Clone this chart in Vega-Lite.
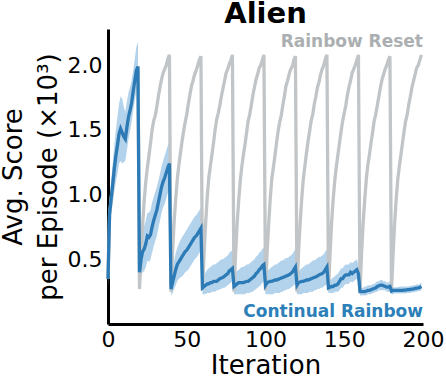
{
"$schema": "https://vega.github.io/schema/vega-lite/v6.json",
"width": 315, "height": 295,
"autosize": "none",
"padding": {"left": 108, "top": 29, "right": 23, "bottom": 52},
"background": "white",
"config": {
 "view": {"stroke": null},
 "font": "DejaVu Sans",
 "axis": {"domainColor": "black", "domainWidth": 3, "ticks": false, "grid": false, "labelFont": "DejaVu Sans", "labelFontSize": 22, "labelColor": "black", "titleFont": "DejaVu Sans", "titleFontSize": 26, "titleFontWeight": "normal", "titleColor": "black", "labelFlush": false, "labelOverlap": false}
},
"title": {"text": "Alien", "font": "DejaVu Sans", "fontSize": 29, "fontWeight": "bold", "color": "black", "anchor": "middle", "frame": "group", "offset": 0},
"datasets": {
"runs": [
{"iter":0,"reset":0.35,"cont":0.35,"lo":0.28,"hi":0.42},
{"iter":1,"reset":0.85,"cont":0.85,"lo":0.76,"hi":0.95},
{"iter":2,"reset":0.97,"cont":0.97,"lo":0.85,"hi":1.10},
{"iter":3,"reset":1.08,"cont":1.08,"lo":0.93,"hi":1.24},
{"iter":4,"reset":1.20,"cont":1.20,"lo":1.02,"hi":1.38},
{"iter":5,"reset":1.30,"cont":1.30,"lo":1.10,"hi":1.50},
{"iter":6,"reset":1.38,"cont":1.38,"lo":1.16,"hi":1.60},
{"iter":7,"reset":1.47,"cont":1.47,"lo":1.24,"hi":1.70},
{"iter":8,"reset":1.51,"cont":1.51,"lo":1.26,"hi":1.76},
{"iter":9,"reset":1.48,"cont":1.48,"lo":1.24,"hi":1.74},
{"iter":10,"reset":1.45,"cont":1.45,"lo":1.25,"hi":1.68},
{"iter":11,"reset":1.43,"cont":1.43,"lo":1.26,"hi":1.64},
{"iter":12,"reset":1.52,"cont":1.52,"lo":1.34,"hi":1.72},
{"iter":13,"reset":1.60,"cont":1.60,"lo":1.43,"hi":1.79},
{"iter":14,"reset":1.65,"cont":1.65,"lo":1.49,"hi":1.83},
{"iter":15,"reset":1.71,"cont":1.71,"lo":1.56,"hi":1.88},
{"iter":16,"reset":1.80,"cont":1.80,"lo":1.65,"hi":1.96},
{"iter":17,"reset":1.88,"cont":1.88,"lo":1.73,"hi":2.05},
{"iter":18,"reset":1.96,"cont":1.96,"lo":1.80,"hi":2.14},
{"iter":19,"reset":1.99,"cont":1.99,"lo":1.84,"hi":2.18},
{"iter":20,"reset":0.27,"cont":0.40,"lo":0.30,"hi":0.52},
{"iter":21,"reset":0.54,"cont":0.50,"lo":0.36,"hi":0.64},
{"iter":22,"reset":0.77,"cont":0.56,"lo":0.40,"hi":0.72},
{"iter":23,"reset":0.96,"cont":0.58,"lo":0.41,"hi":0.76},
{"iter":24,"reset":1.10,"cont":0.62,"lo":0.44,"hi":0.80},
{"iter":25,"reset":1.21,"cont":0.68,"lo":0.49,"hi":0.86},
{"iter":26,"reset":1.30,"cont":0.67,"lo":0.48,"hi":0.86},
{"iter":27,"reset":1.40,"cont":0.69,"lo":0.50,"hi":0.88},
{"iter":28,"reset":1.50,"cont":0.75,"lo":0.55,"hi":0.94},
{"iter":29,"reset":1.57,"cont":0.80,"lo":0.60,"hi":0.98},
{"iter":30,"reset":1.61,"cont":0.84,"lo":0.64,"hi":1.02},
{"iter":31,"reset":1.68,"cont":0.88,"lo":0.68,"hi":1.06},
{"iter":32,"reset":1.76,"cont":0.94,"lo":0.74,"hi":1.11},
{"iter":33,"reset":1.83,"cont":1.00,"lo":0.80,"hi":1.16},
{"iter":34,"reset":1.89,"cont":1.06,"lo":0.86,"hi":1.22},
{"iter":35,"reset":1.94,"cont":1.10,"lo":0.90,"hi":1.26},
{"iter":36,"reset":1.97,"cont":1.13,"lo":0.93,"hi":1.30},
{"iter":37,"reset":2.00,"cont":1.17,"lo":0.97,"hi":1.34},
{"iter":38,"reset":2.05,"cont":1.21,"lo":1.01,"hi":1.38},
{"iter":39,"reset":2.08,"cont":1.24,"lo":1.04,"hi":1.42},
{"iter":40,"reset":0.25,"cont":0.27,"lo":0.22,"hi":0.34},
{"iter":41,"reset":0.56,"cont":0.32,"lo":0.24,"hi":0.42},
{"iter":42,"reset":0.79,"cont":0.37,"lo":0.27,"hi":0.49},
{"iter":43,"reset":0.97,"cont":0.42,"lo":0.30,"hi":0.55},
{"iter":44,"reset":1.12,"cont":0.46,"lo":0.33,"hi":0.59},
{"iter":45,"reset":1.23,"cont":0.48,"lo":0.35,"hi":0.62},
{"iter":46,"reset":1.32,"cont":0.50,"lo":0.36,"hi":0.65},
{"iter":47,"reset":1.41,"cont":0.52,"lo":0.37,"hi":0.67},
{"iter":48,"reset":1.49,"cont":0.54,"lo":0.38,"hi":0.69},
{"iter":49,"reset":1.56,"cont":0.56,"lo":0.40,"hi":0.71},
{"iter":50,"reset":1.62,"cont":0.57,"lo":0.41,"hi":0.73},
{"iter":51,"reset":1.70,"cont":0.59,"lo":0.42,"hi":0.75},
{"iter":52,"reset":1.77,"cont":0.61,"lo":0.44,"hi":0.77},
{"iter":53,"reset":1.84,"cont":0.63,"lo":0.46,"hi":0.79},
{"iter":54,"reset":1.88,"cont":0.65,"lo":0.48,"hi":0.81},
{"iter":55,"reset":1.93,"cont":0.67,"lo":0.50,"hi":0.83},
{"iter":56,"reset":1.96,"cont":0.68,"lo":0.51,"hi":0.84},
{"iter":57,"reset":2.00,"cont":0.70,"lo":0.53,"hi":0.86},
{"iter":58,"reset":2.04,"cont":0.72,"lo":0.55,"hi":0.88},
{"iter":59,"reset":2.07,"cont":0.74,"lo":0.57,"hi":0.90},
{"iter":60,"reset":0.26,"cont":0.28,"lo":0.23,"hi":0.35},
{"iter":61,"reset":0.55,"cont":0.29,"lo":0.23,"hi":0.38},
{"iter":62,"reset":0.78,"cont":0.30,"lo":0.23,"hi":0.40},
{"iter":63,"reset":0.98,"cont":0.31,"lo":0.24,"hi":0.42},
{"iter":64,"reset":1.13,"cont":0.31,"lo":0.24,"hi":0.43},
{"iter":65,"reset":1.22,"cont":0.32,"lo":0.24,"hi":0.44},
{"iter":66,"reset":1.31,"cont":0.32,"lo":0.25,"hi":0.45},
{"iter":67,"reset":1.40,"cont":0.33,"lo":0.25,"hi":0.46},
{"iter":68,"reset":1.50,"cont":0.33,"lo":0.25,"hi":0.46},
{"iter":69,"reset":1.58,"cont":0.33,"lo":0.26,"hi":0.47},
{"iter":70,"reset":1.63,"cont":0.34,"lo":0.26,"hi":0.48},
{"iter":71,"reset":1.69,"cont":0.35,"lo":0.27,"hi":0.49},
{"iter":72,"reset":1.76,"cont":0.355,"lo":0.27,"hi":0.50},
{"iter":73,"reset":1.82,"cont":0.36,"lo":0.28,"hi":0.50},
{"iter":74,"reset":1.88,"cont":0.37,"lo":0.28,"hi":0.51},
{"iter":75,"reset":1.94,"cont":0.38,"lo":0.29,"hi":0.52},
{"iter":76,"reset":1.97,"cont":0.39,"lo":0.30,"hi":0.53},
{"iter":77,"reset":2.01,"cont":0.41,"lo":0.31,"hi":0.55},
{"iter":78,"reset":2.04,"cont":0.42,"lo":0.32,"hi":0.56},
{"iter":79,"reset":2.08,"cont":0.43,"lo":0.33,"hi":0.57},
{"iter":80,"reset":0.25,"cont":0.29,"lo":0.23,"hi":0.36},
{"iter":81,"reset":0.54,"cont":0.30,"lo":0.23,"hi":0.39},
{"iter":82,"reset":0.78,"cont":0.31,"lo":0.23,"hi":0.41},
{"iter":83,"reset":0.96,"cont":0.32,"lo":0.23,"hi":0.42},
{"iter":84,"reset":1.11,"cont":0.32,"lo":0.23,"hi":0.43},
{"iter":85,"reset":1.22,"cont":0.32,"lo":0.23,"hi":0.44},
{"iter":86,"reset":1.31,"cont":0.32,"lo":0.23,"hi":0.44},
{"iter":87,"reset":1.39,"cont":0.325,"lo":0.23,"hi":0.45},
{"iter":88,"reset":1.48,"cont":0.33,"lo":0.24,"hi":0.46},
{"iter":89,"reset":1.57,"cont":0.33,"lo":0.24,"hi":0.46},
{"iter":90,"reset":1.62,"cont":0.34,"lo":0.24,"hi":0.47},
{"iter":91,"reset":1.69,"cont":0.35,"lo":0.25,"hi":0.48},
{"iter":92,"reset":1.77,"cont":0.36,"lo":0.25,"hi":0.49},
{"iter":93,"reset":1.83,"cont":0.37,"lo":0.26,"hi":0.50},
{"iter":94,"reset":1.89,"cont":0.39,"lo":0.27,"hi":0.52},
{"iter":95,"reset":1.93,"cont":0.40,"lo":0.28,"hi":0.53},
{"iter":96,"reset":1.98,"cont":0.42,"lo":0.29,"hi":0.55},
{"iter":97,"reset":2.00,"cont":0.43,"lo":0.30,"hi":0.56},
{"iter":98,"reset":2.04,"cont":0.45,"lo":0.32,"hi":0.58},
{"iter":99,"reset":2.08,"cont":0.46,"lo":0.33,"hi":0.59},
{"iter":100,"reset":0.26,"cont":0.30,"lo":0.23,"hi":0.37},
{"iter":101,"reset":0.55,"cont":0.32,"lo":0.23,"hi":0.40},
{"iter":102,"reset":0.77,"cont":0.325,"lo":0.23,"hi":0.42},
{"iter":103,"reset":0.97,"cont":0.33,"lo":0.23,"hi":0.43},
{"iter":104,"reset":1.12,"cont":0.33,"lo":0.23,"hi":0.44},
{"iter":105,"reset":1.21,"cont":0.335,"lo":0.23,"hi":0.45},
{"iter":106,"reset":1.30,"cont":0.34,"lo":0.24,"hi":0.46},
{"iter":107,"reset":1.40,"cont":0.34,"lo":0.24,"hi":0.46},
{"iter":108,"reset":1.49,"cont":0.345,"lo":0.24,"hi":0.47},
{"iter":109,"reset":1.56,"cont":0.35,"lo":0.24,"hi":0.48},
{"iter":110,"reset":1.61,"cont":0.355,"lo":0.25,"hi":0.49},
{"iter":111,"reset":1.69,"cont":0.36,"lo":0.25,"hi":0.49},
{"iter":112,"reset":1.76,"cont":0.365,"lo":0.26,"hi":0.50},
{"iter":113,"reset":1.84,"cont":0.37,"lo":0.26,"hi":0.51},
{"iter":114,"reset":1.88,"cont":0.375,"lo":0.27,"hi":0.51},
{"iter":115,"reset":1.93,"cont":0.38,"lo":0.27,"hi":0.52},
{"iter":116,"reset":1.97,"cont":0.39,"lo":0.28,"hi":0.53},
{"iter":117,"reset":1.99,"cont":0.40,"lo":0.29,"hi":0.54},
{"iter":118,"reset":2.04,"cont":0.42,"lo":0.30,"hi":0.56},
{"iter":119,"reset":2.07,"cont":0.44,"lo":0.31,"hi":0.58},
{"iter":120,"reset":0.25,"cont":0.30,"lo":0.23,"hi":0.37},
{"iter":121,"reset":0.56,"cont":0.32,"lo":0.23,"hi":0.40},
{"iter":122,"reset":0.78,"cont":0.325,"lo":0.23,"hi":0.42},
{"iter":123,"reset":0.97,"cont":0.33,"lo":0.23,"hi":0.43},
{"iter":124,"reset":1.12,"cont":0.33,"lo":0.24,"hi":0.44},
{"iter":125,"reset":1.22,"cont":0.335,"lo":0.24,"hi":0.45},
{"iter":126,"reset":1.32,"cont":0.34,"lo":0.24,"hi":0.46},
{"iter":127,"reset":1.41,"cont":0.34,"lo":0.24,"hi":0.46},
{"iter":128,"reset":1.49,"cont":0.345,"lo":0.25,"hi":0.47},
{"iter":129,"reset":1.57,"cont":0.35,"lo":0.25,"hi":0.48},
{"iter":130,"reset":1.62,"cont":0.355,"lo":0.25,"hi":0.49},
{"iter":131,"reset":1.70,"cont":0.36,"lo":0.26,"hi":0.49},
{"iter":132,"reset":1.76,"cont":0.365,"lo":0.26,"hi":0.50},
{"iter":133,"reset":1.83,"cont":0.37,"lo":0.27,"hi":0.51},
{"iter":134,"reset":1.87,"cont":0.38,"lo":0.27,"hi":0.52},
{"iter":135,"reset":1.93,"cont":0.385,"lo":0.28,"hi":0.52},
{"iter":136,"reset":1.97,"cont":0.39,"lo":0.28,"hi":0.53},
{"iter":137,"reset":2.00,"cont":0.40,"lo":0.29,"hi":0.54},
{"iter":138,"reset":2.05,"cont":0.42,"lo":0.30,"hi":0.56},
{"iter":139,"reset":2.08,"cont":0.44,"lo":0.31,"hi":0.58},
{"iter":140,"reset":0.26,"cont":0.28,"lo":0.24,"hi":0.33},
{"iter":141,"reset":0.55,"cont":0.285,"lo":0.24,"hi":0.34},
{"iter":142,"reset":0.79,"cont":0.29,"lo":0.24,"hi":0.35},
{"iter":143,"reset":0.97,"cont":0.29,"lo":0.24,"hi":0.36},
{"iter":144,"reset":1.11,"cont":0.30,"lo":0.25,"hi":0.37},
{"iter":145,"reset":1.22,"cont":0.30,"lo":0.25,"hi":0.38},
{"iter":146,"reset":1.31,"cont":0.31,"lo":0.25,"hi":0.39},
{"iter":147,"reset":1.40,"cont":0.33,"lo":0.26,"hi":0.41},
{"iter":148,"reset":1.49,"cont":0.35,"lo":0.28,"hi":0.43},
{"iter":149,"reset":1.57,"cont":0.35,"lo":0.28,"hi":0.43},
{"iter":150,"reset":1.63,"cont":0.37,"lo":0.30,"hi":0.45},
{"iter":151,"reset":1.69,"cont":0.38,"lo":0.31,"hi":0.46},
{"iter":152,"reset":1.77,"cont":0.38,"lo":0.31,"hi":0.46},
{"iter":153,"reset":1.83,"cont":0.38,"lo":0.31,"hi":0.46},
{"iter":154,"reset":1.88,"cont":0.40,"lo":0.33,"hi":0.48},
{"iter":155,"reset":1.94,"cont":0.39,"lo":0.32,"hi":0.47},
{"iter":156,"reset":1.97,"cont":0.40,"lo":0.33,"hi":0.48},
{"iter":157,"reset":2.00,"cont":0.41,"lo":0.34,"hi":0.49},
{"iter":158,"reset":2.04,"cont":0.42,"lo":0.35,"hi":0.50},
{"iter":159,"reset":2.08,"cont":0.39,"lo":0.32,"hi":0.46},
{"iter":160,"reset":0.25,"cont":0.25,"lo":0.22,"hi":0.28},
{"iter":161,"reset":0.55,"cont":0.25,"lo":0.22,"hi":0.28},
{"iter":162,"reset":0.78,"cont":0.25,"lo":0.22,"hi":0.28},
{"iter":163,"reset":0.96,"cont":0.25,"lo":0.22,"hi":0.29},
{"iter":164,"reset":1.12,"cont":0.255,"lo":0.22,"hi":0.29},
{"iter":165,"reset":1.23,"cont":0.26,"lo":0.23,"hi":0.30},
{"iter":166,"reset":1.31,"cont":0.26,"lo":0.23,"hi":0.30},
{"iter":167,"reset":1.40,"cont":0.265,"lo":0.23,"hi":0.30},
{"iter":168,"reset":1.48,"cont":0.27,"lo":0.24,"hi":0.31},
{"iter":169,"reset":1.57,"cont":0.275,"lo":0.24,"hi":0.31},
{"iter":170,"reset":1.62,"cont":0.28,"lo":0.25,"hi":0.32},
{"iter":171,"reset":1.69,"cont":0.29,"lo":0.25,"hi":0.33},
{"iter":172,"reset":1.76,"cont":0.295,"lo":0.26,"hi":0.33},
{"iter":173,"reset":1.83,"cont":0.30,"lo":0.26,"hi":0.34},
{"iter":174,"reset":1.89,"cont":0.30,"lo":0.26,"hi":0.34},
{"iter":175,"reset":1.93,"cont":0.295,"lo":0.26,"hi":0.33},
{"iter":176,"reset":1.97,"cont":0.29,"lo":0.26,"hi":0.33},
{"iter":177,"reset":2.00,"cont":0.285,"lo":0.25,"hi":0.32},
{"iter":178,"reset":2.04,"cont":0.285,"lo":0.25,"hi":0.32},
{"iter":179,"reset":2.07,"cont":0.29,"lo":0.25,"hi":0.33},
{"iter":180,"reset":0.26,"cont":0.255,"lo":0.23,"hi":0.28},
{"iter":181,"reset":0.54,"cont":0.26,"lo":0.23,"hi":0.285},
{"iter":182,"reset":0.78,"cont":0.26,"lo":0.235,"hi":0.285},
{"iter":183,"reset":0.97,"cont":0.26,"lo":0.235,"hi":0.285},
{"iter":184,"reset":1.12,"cont":0.26,"lo":0.235,"hi":0.285},
{"iter":185,"reset":1.22,"cont":0.26,"lo":0.235,"hi":0.29},
{"iter":186,"reset":1.31,"cont":0.26,"lo":0.235,"hi":0.29},
{"iter":187,"reset":1.40,"cont":0.26,"lo":0.235,"hi":0.29},
{"iter":188,"reset":1.49,"cont":0.262,"lo":0.235,"hi":0.29},
{"iter":189,"reset":1.57,"cont":0.262,"lo":0.235,"hi":0.29},
{"iter":190,"reset":1.62,"cont":0.265,"lo":0.24,"hi":0.29},
{"iter":191,"reset":1.70,"cont":0.265,"lo":0.24,"hi":0.29},
{"iter":192,"reset":1.76,"cont":0.268,"lo":0.24,"hi":0.295},
{"iter":193,"reset":1.83,"cont":0.27,"lo":0.245,"hi":0.295},
{"iter":194,"reset":1.88,"cont":0.272,"lo":0.245,"hi":0.30},
{"iter":195,"reset":1.93,"cont":0.275,"lo":0.25,"hi":0.30},
{"iter":196,"reset":1.98,"cont":0.278,"lo":0.25,"hi":0.305},
{"iter":197,"reset":2.00,"cont":0.28,"lo":0.255,"hi":0.305},
{"iter":198,"reset":2.04,"cont":0.283,"lo":0.255,"hi":0.31},
{"iter":199,"reset":2.08,"cont":0.29,"lo":0.26,"hi":0.32}
],
"labels": [
{"label": "Rainbow Reset", "series": "reset", "at": 200, "level": 2.143},
{"label": "Continual Rainbow", "series": "cont", "at": 200, "level": 0.056}
]
},
"layer": [
 {"data": {"name": "runs"},
  "mark": {"type": "area", "color": "#b3d3ec", "opacity": 1},
  "encoding": {
   "x": {"field": "iter", "type": "quantitative", "scale": {"domain": [0, 200], "nice": false},
    "axis": {"title": "Iteration", "values": [0, 50, 100, 150, 200], "labelPadding": 5, "titleY": 49, "titleBaseline": "alphabetic"}},
   "y": {"field": "lo", "type": "quantitative", "scale": {"domain": [0, 2.28], "nice": false, "zero": true},
    "axis": {"title": ["Avg. Score", "per Episode (×10³)"], "values": [0.5, 1, 1.5, 2], "format": ".1f", "labelPadding": 6, "titleX": -87, "titleY": 147.5, "titleAngle": -90, "titleAlign": "center", "titleBaseline": "alphabetic", "titleLineHeight": 35}},
   "y2": {"field": "hi"}}},
 {"data": {"name": "runs"},
  "mark": {"type": "line", "color": "#c1c5c7", "strokeWidth": 3.3},
  "encoding": {"x": {"field": "iter", "type": "quantitative"}, "y": {"field": "reset", "type": "quantitative"}}},
 {"data": {"name": "runs"},
  "mark": {"type": "line", "color": "#2c7bb6", "strokeWidth": 3.3},
  "encoding": {"x": {"field": "iter", "type": "quantitative"}, "y": {"field": "cont", "type": "quantitative"}}},
 {"data": {"name": "labels"},
  "mark": {"type": "text", "font": "DejaVu Sans", "fontWeight": "bold", "fontSize": 17, "align": "right", "baseline": "alphabetic"},
  "encoding": {
   "x": {"field": "at", "type": "quantitative"},
   "y": {"field": "level", "type": "quantitative"},
   "text": {"field": "label"},
   "color": {"field": "series", "type": "nominal", "scale": {"domain": ["reset", "cont"], "range": ["#abafb1", "#2c7fb8"]}, "legend": null}}}
]
}
